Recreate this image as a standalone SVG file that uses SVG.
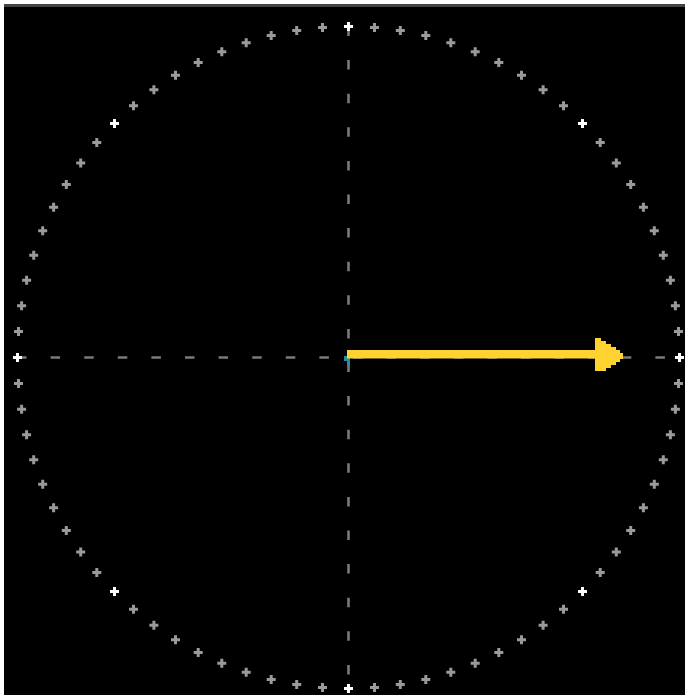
<svg xmlns="http://www.w3.org/2000/svg" xmlns:xlink="http://www.w3.org/1999/xlink" width="685" height="695" viewBox="0 0 685 695">
<style>
.g{fill:#9a9a9a}
.w{fill:#ffffff}
.ax{stroke:#7a7a7a;stroke-width:2.6;fill:none;stroke-dasharray:9.5 24.1}
</style>
<defs>
<path id="p" d="M-1.5,-4.5h3v3h3v3h-3v3h-3v-3h-3v-3h3z"/>
</defs>
<rect x="0" y="0" width="685" height="695" fill="#ffffff"/>
<rect x="4" y="4" width="681" height="691" fill="#000000"/>
<rect x="4" y="4" width="681" height="3" fill="#444444"/>
<g id="connectors">
<line class="ax" x1="348.5" y1="26.5" x2="348.5" y2="688.5"/>
<line class="ax" x1="17" y1="357.5" x2="679.5" y2="357.5"/>
</g>
<g id="ring">
<use href="#p" class="w" x="679.5" y="357.5"/>
<use href="#p" class="g" x="678.5" y="331.5"/>
<use href="#p" class="g" x="675.4" y="305.7"/>
<use href="#p" class="g" x="670.4" y="280.2"/>
<use href="#p" class="g" x="663.3" y="255.2"/>
<use href="#p" class="g" x="654.3" y="230.8"/>
<use href="#p" class="g" x="643.4" y="207.2"/>
<use href="#p" class="g" x="630.7" y="184.5"/>
<use href="#p" class="g" x="616.3" y="162.9"/>
<use href="#p" class="g" x="600.2" y="142.5"/>
<use href="#p" class="w" x="582.5" y="123.5"/>
<use href="#p" class="g" x="563.5" y="105.8"/>
<use href="#p" class="g" x="543.1" y="89.7"/>
<use href="#p" class="g" x="521.5" y="75.3"/>
<use href="#p" class="g" x="498.8" y="62.6"/>
<use href="#p" class="g" x="475.2" y="51.7"/>
<use href="#p" class="g" x="450.8" y="42.7"/>
<use href="#p" class="g" x="425.8" y="35.6"/>
<use href="#p" class="g" x="400.3" y="30.6"/>
<use href="#p" class="g" x="374.5" y="27.5"/>
<use href="#p" class="w" x="348.5" y="26.5"/>
<use href="#p" class="g" x="322.5" y="27.5"/>
<use href="#p" class="g" x="296.7" y="30.6"/>
<use href="#p" class="g" x="271.2" y="35.6"/>
<use href="#p" class="g" x="246.2" y="42.7"/>
<use href="#p" class="g" x="221.8" y="51.7"/>
<use href="#p" class="g" x="198.2" y="62.6"/>
<use href="#p" class="g" x="175.5" y="75.3"/>
<use href="#p" class="g" x="153.9" y="89.7"/>
<use href="#p" class="g" x="133.5" y="105.8"/>
<use href="#p" class="w" x="114.5" y="123.5"/>
<use href="#p" class="g" x="96.8" y="142.5"/>
<use href="#p" class="g" x="80.7" y="162.9"/>
<use href="#p" class="g" x="66.3" y="184.5"/>
<use href="#p" class="g" x="53.6" y="207.2"/>
<use href="#p" class="g" x="42.7" y="230.8"/>
<use href="#p" class="g" x="33.7" y="255.2"/>
<use href="#p" class="g" x="26.6" y="280.2"/>
<use href="#p" class="g" x="21.6" y="305.7"/>
<use href="#p" class="g" x="18.5" y="331.5"/>
<use href="#p" class="w" x="17.5" y="357.5"/>
<use href="#p" class="g" x="18.5" y="383.5"/>
<use href="#p" class="g" x="21.6" y="409.3"/>
<use href="#p" class="g" x="26.6" y="434.8"/>
<use href="#p" class="g" x="33.7" y="459.8"/>
<use href="#p" class="g" x="42.7" y="484.2"/>
<use href="#p" class="g" x="53.6" y="507.8"/>
<use href="#p" class="g" x="66.3" y="530.5"/>
<use href="#p" class="g" x="80.7" y="552.1"/>
<use href="#p" class="g" x="96.8" y="572.5"/>
<use href="#p" class="w" x="114.5" y="591.5"/>
<use href="#p" class="g" x="133.5" y="609.2"/>
<use href="#p" class="g" x="153.9" y="625.3"/>
<use href="#p" class="g" x="175.5" y="639.7"/>
<use href="#p" class="g" x="198.2" y="652.4"/>
<use href="#p" class="g" x="221.8" y="663.3"/>
<use href="#p" class="g" x="246.2" y="672.3"/>
<use href="#p" class="g" x="271.2" y="679.4"/>
<use href="#p" class="g" x="296.7" y="684.4"/>
<use href="#p" class="g" x="322.5" y="687.5"/>
<use href="#p" class="w" x="348.5" y="688.5"/>
<use href="#p" class="g" x="374.5" y="687.5"/>
<use href="#p" class="g" x="400.3" y="684.4"/>
<use href="#p" class="g" x="425.8" y="679.4"/>
<use href="#p" class="g" x="450.8" y="672.3"/>
<use href="#p" class="g" x="475.2" y="663.3"/>
<use href="#p" class="g" x="498.8" y="652.4"/>
<use href="#p" class="g" x="521.5" y="639.7"/>
<use href="#p" class="g" x="543.1" y="625.3"/>
<use href="#p" class="g" x="563.5" y="609.2"/>
<use href="#p" class="w" x="582.5" y="591.5"/>
<use href="#p" class="g" x="600.2" y="572.5"/>
<use href="#p" class="g" x="616.3" y="552.1"/>
<use href="#p" class="g" x="630.7" y="530.5"/>
<use href="#p" class="g" x="643.4" y="507.8"/>
<use href="#p" class="g" x="654.3" y="484.2"/>
<use href="#p" class="g" x="663.3" y="459.8"/>
<use href="#p" class="g" x="670.4" y="434.8"/>
<use href="#p" class="g" x="675.4" y="409.3"/>
<use href="#p" class="g" x="678.5" y="383.5"/>
</g>
<g id="origin">
<rect x="344" y="356" width="3" height="5" fill="#2a8a9e"/>
<rect x="347" y="358" width="3" height="7" fill="#2a8a9e"/>
</g>
<g id="vector">
<polygon fill="#fed330" points="347,350 595,350 595,338 601,338 601,341 606,341 606,344 611,344 611,347 616,347 616,350 620,350 620,353 623,353 623,359 620,359 620,362 616,362 616,365 611,365 611,368 606,368 606,371 601,371 595,371 595,358.5 347,358.5"/>
</g>
</svg>
